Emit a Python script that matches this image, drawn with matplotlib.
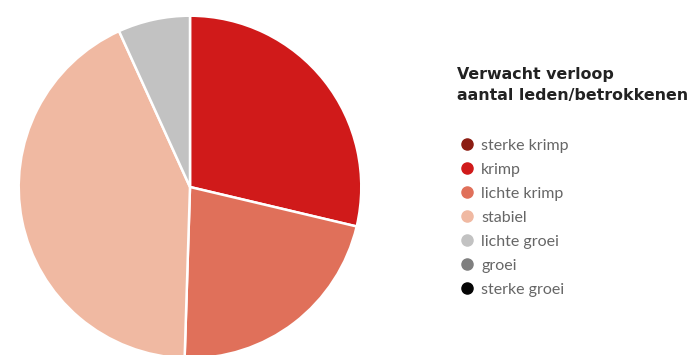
import matplotlib
matplotlib.use("Agg")
import matplotlib.pyplot as plt
from matplotlib.lines import Line2D

categories = ['sterke krimp', 'krimp', 'lichte krimp', 'stabiel', 'lichte groei', 'groei', 'sterke groei']
values = [0, 28.7, 21.8, 42.7, 6.8, 0, 0]
colors = ['#8c1c12', '#d01a1a', '#e0705a', '#f0b9a2', '#c2c2c2', '#7f7f7f', '#050505']
title = 'Verwacht verloop\naantal leden/betrokkenen'

W, H = 693, 355
fig = plt.figure(figsize=(W / 100, H / 100), dpi=100)

# pie axes: center (190, 187) px, radius 173 px
cx, cy, r = 190, 187, 173
ax = fig.add_axes([(cx - r) / W, (H - cy - r) / H, 2 * r / W, 2 * r / H])
shown = [(v, c) for v, c in zip(values, colors) if v > 0]
ax.pie([v for v, c in shown], colors=[c for v, c in shown], startangle=90, counterclock=False,
       radius=1, wedgeprops=dict(edgecolor='white', linewidth=1.8))
ax.set_xlim(-1.01, 1.01)
ax.set_ylim(-1.01, 1.01)
ax.axis('off')

fig.text(457 / W, 1 - 67 / H, title, fontsize=11.4, fontweight='bold', color='#222222',
         family='DejaVu Sans', va='top', ha='left', multialignment='left', linespacing=1.5)

handles = [Line2D([], [], marker='o', linestyle='none', markersize=8, color=c) for c in colors]
leg = fig.legend(handles, categories, loc='upper left', bbox_to_anchor=(451 / W, 1 - 132 / H),
                 frameon=False, handletextpad=0.3, labelspacing=0.62, handlelength=1.2,
                 borderaxespad=0, prop=dict(family='Lato', size=11.5))
for t in leg.get_texts():
    t.set_color('#666666')

fig.savefig('out.png', dpi=100)
